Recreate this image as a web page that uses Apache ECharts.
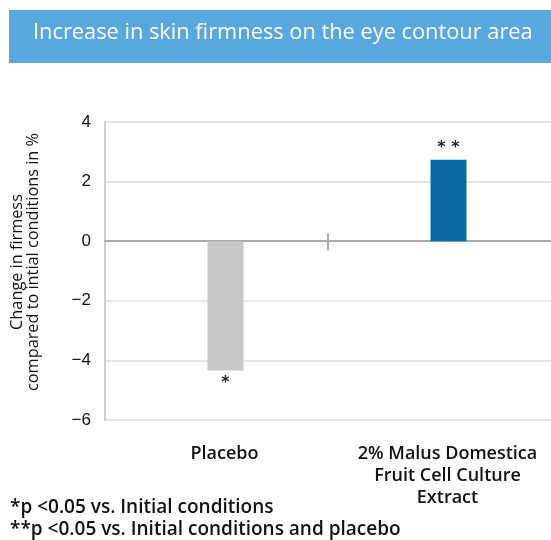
<!DOCTYPE html>
<html>
<head>
<meta charset="utf-8">
<script src="https://cdn.jsdelivr.net/npm/echarts@6/dist/echarts.min.js"></script>
<style>
    html, body {margin: 0; padding: 0; background: #fff;}
    #chart_1 {width: 551px; height: 540px;}
</style>
</head>
<body>
<div id="chart_1"></div>
<script>
var categories = ['Placebo', '2% Malus Domestica\nFruit Cell Culture\nExtract'];
var values = [-4.34, 2.73];
var marks = ['*', '* *'];
var barColors = ['#c8c6c7', '#0a6aa6'];
var yTicks = [-6, -4, -2, 0, 2, 4];

var font = 'Open Sans';

var myChart = echarts.init(document.getElementById('chart_1'));

var barData = [];
var emptyData = [];
for (var i = 0; i < values.length; i++) {
    emptyData.push(null);
    barData.push({
        value: values[i],
        itemStyle: {color: barColors[i]},
        label: {
            show: true,
            formatter: marks[i],
            position: values[i] < 0 ? 'bottom' : 'top',
            distance: 4,
            color: '#222',
            fontSize: 16,
            fontWeight: 'bold',
            fontFamily: 'DejaVu Sans'
        }
    });
}

var yMin = yTicks[0], yMax = yTicks[yTicks.length - 1];

// helper axes for the zero line and the single divider tick between the groups
var n = categories.length;
function zeroAxis(yIdx, inside) {
    return {
        type: 'value',
        min: 0,
        max: n,
        position: 'bottom',
        axisLine: {show: !inside, onZero: true, onZeroAxisIndex: yIdx, lineStyle: {color: '#aaa', width: 2}},
        axisTick: {show: true, inside: inside, length: inside ? 8 : 9, customValues: [1],
            lineStyle: {color: '#aaa', width: 2}},
        axisLabel: {show: false},
        splitLine: {show: false}
    };
}

myChart.setOption({
    animation: false,
    grid: {left: 105, right: 0, top: 122, bottom: 120},
    graphic: [
        {
            type: 'rect',
            shape: {x: 9, y: 10, width: 560, height: 53},
            style: {fill: '#58a8df'}
        },
        {
            type: 'text',
            left: 33, top: 22,
            style: {text: 'Increase in skin firmness on the eye contour area', fill: '#fff',
                fontSize: 21.8, fontFamily: font}
        },
        {
            type: 'text',
            left: 10, top: 497,
            style: {text: '*p <0.05 vs. Initial conditions\n**p <0.05 vs. Initial conditions and placebo',
                fill: '#111', fontSize: 19, fontWeight: 600, fontFamily: font, lineHeight: 22}
        }
    ],
    xAxis: [
        {
            type: 'category',
            data: categories,
            position: 'bottom',
            axisLine: {show: false, onZero: false},
            axisTick: {show: false},
            axisLabel: {
                interval: 0,
                margin: 23,
                color: '#111',
                fontSize: 18,
                fontWeight: 600,
                fontFamily: font,
                lineHeight: 22,
                padding: [0, 0, 0, 16]
            }
        },
        zeroAxis(0, false),
        zeroAxis(1, true)
    ],
    yAxis: [
        {
            type: 'value',
            min: yMin,
            max: yMax,
            interval: 2,
            name: 'Change in firmess\ncompared to intial conditions in %',
            nameLocation: 'middle',
            nameRotate: 90,
            nameGap: 64,
            nameTextStyle: {color: '#111', fontSize: 16.3, fontFamily: font, lineHeight: 16,
                padding: [0, 0, 0, 18]},
            axisLine: {show: true, onZero: false, lineStyle: {color: '#bfbfbf', width: 1.5}},
            axisTick: {show: false},
            splitLine: {lineStyle: {color: '#dcdcdc', width: 1.5}},
            axisLabel: {
                margin: 14,
                color: '#111',
                fontSize: 17,
                fontFamily: 'Liberation Sans',
                formatter: function (v) { return String(v).replace('-', '\u2212'); }
            }
        },
        {
            type: 'value',
            min: yMin,
            max: yMax,
            interval: 2,
            show: false,
            axisLine: {onZero: false}
        }
    ],
    series: [
        {
            type: 'bar',
            xAxisIndex: 0,
            barWidth: 36,
            data: emptyData
        },
        {
            type: 'bar',
            xAxisIndex: 0,
            barWidth: 36,
            barGap: '-50%',
            data: barData
        }
    ]
});
</script>
</body>
</html>
